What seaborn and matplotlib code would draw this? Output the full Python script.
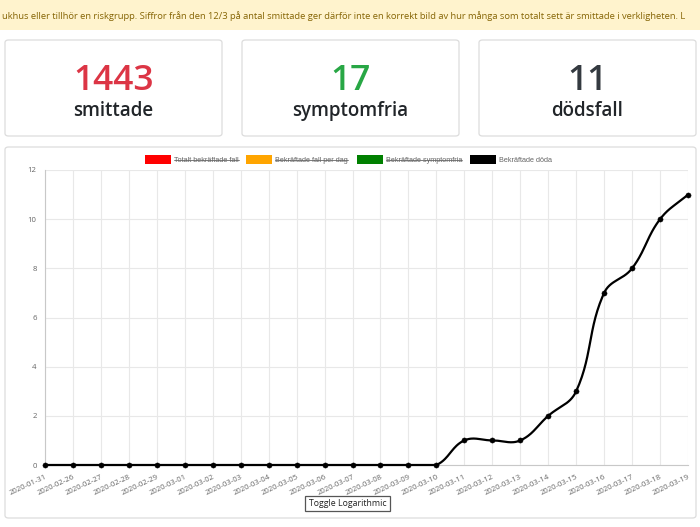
import numpy as np
import pandas as pd
import matplotlib
matplotlib.use("Agg")
import matplotlib.pyplot as plt
import seaborn as sns
from matplotlib.patches import FancyBboxPatch, Rectangle
from matplotlib.lines import Line2D

# ---------------- data ----------------
dates = ["2020-01-31", "2020-02-26", "2020-02-27", "2020-02-28", "2020-02-29",
         "2020-03-01", "2020-03-02", "2020-03-03", "2020-03-04", "2020-03-05",
         "2020-03-06", "2020-03-07", "2020-03-08", "2020-03-09", "2020-03-10",
         "2020-03-11", "2020-03-12", "2020-03-13", "2020-03-14", "2020-03-15",
         "2020-03-16", "2020-03-17", "2020-03-18", "2020-03-19"]
deaths = [0, 0, 0, 0, 0, 0, 0, 0, 0, 0, 0, 0, 0, 0, 0,
          1, 1, 1, 2, 3, 7, 8, 10, 11]
y_ticks = [0, 2, 4, 6, 8, 10, 12]

legend_labels = ["Totalt bekräftade fall", "Bekräftade fall per dag",
                 "Bekräftade symptomfria", "Bekräftade döda"]
legend_colors = ["#ff0000", "#ffa500", "#008000", "#000000"]
legend_hidden = [True, True, True, False]

card_values = ["1443", "17", "11"]
card_labels = ["smittade", "symptomfria", "dödsfall"]
card_colors = ["#dc3545", "#28a745", "#343a40"]

banner_text = ("ukhus eller tillhör en riskgrupp. Siffror från den 12/3 på antal smittade ger "
               "därför inte en korrekt bild av hur många som totalt sett är smittade i verkligheten. L")

# ---------------- setup ----------------
sns.set_style("white")
plt.rcParams["font.family"] = ["Open Sans", "DejaVu Sans"]

W, H = 700, 527
fig = plt.figure(figsize=(7, 5.27), dpi=100)
fig.patch.set_facecolor("white")

def fx(x):
    return x / W

def fy(y):
    return 1 - y / H

# banner
fig.patches.append(Rectangle((0, fy(30)), 1, 30 / H, transform=fig.transFigure,
                             facecolor="#fff3cd", edgecolor="none", zorder=-2))
bt = fig.text(fx(2), fy(16), banner_text, color="#856404", fontsize=8,
              ha="left", va="center")
renderer = fig.canvas.get_renderer()
bw = bt.get_window_extent(renderer).width
bt.set_fontsize(8 * 696 / bw)

# cards
card_x = [(5, 222), (242, 459), (479, 696)]
for (x0, x1), val, lab, col in zip(card_x, card_values, card_labels, card_colors):
    fig.patches.append(FancyBboxPatch((fx(x0), fy(136)), fx(x1 - x0), 96 / H,
                                      boxstyle="round,pad=0,rounding_size=0.005",
                                      transform=fig.transFigure, facecolor="white",
                                      edgecolor="#dcdcdc", linewidth=0.9, zorder=-2))
    cx = (x0 + x1) / 2
    fig.text(fx(cx), fy(89.5), val, color=col, fontsize=25.5, ha="center", va="baseline",
             family=["Open Sans", "DejaVu Sans"], fontweight="semibold")
    fig.text(fx(cx), fy(115.5), lab, color="#212529", fontsize=13.5, ha="center",
             va="baseline", family=["Open Sans", "DejaVu Sans"], fontweight="semibold")

# chart card
fig.patches.append(FancyBboxPatch((fx(5), fy(518)), fx(691), 371 / H,
                                  boxstyle="round,pad=0,rounding_size=0.005",
                                  transform=fig.transFigure, facecolor="white",
                                  edgecolor="#dcdcdc", linewidth=0.9, zorder=-2))

# axes
ax = fig.add_axes([fx(45), fy(465), fx(688) - fx(45), (465 - 170) / H])
ax.set_zorder(3)
ax.set_facecolor("none")
n = len(dates)
idx = np.arange(n)
ax.set_xlim(0, n - 1)
ax.set_ylim(y_ticks[0], y_ticks[-1])

# Chart.js-like spline (tension 0.4) computed in pixel space
fig.canvas.draw()
pts = ax.transData.transform(np.column_stack([idx, deaths]).astype(float))
t = 0.4
cp_prev = np.zeros_like(pts)
cp_next = np.zeros_like(pts)
for i in range(n):
    p0 = pts[i - 1] if i > 0 else pts[i]
    p1 = pts[i]
    p2 = pts[i + 1] if i < n - 1 else pts[i]
    d01 = np.hypot(*(p1 - p0))
    d12 = np.hypot(*(p2 - p1))
    s = d01 + d12
    s01 = d01 / s if s else 0
    s12 = d12 / s if s else 0
    cp_prev[i] = p1 - t * s01 * (p2 - p0)
    cp_next[i] = p1 + t * s12 * (p2 - p0)
bb = ax.get_window_extent(renderer)
for arr in (cp_prev, cp_next):
    arr[:, 1] = np.clip(arr[:, 1], bb.y0, bb.y1)
    arr[:, 0] = np.clip(arr[:, 0], bb.x0, bb.x1)
curve = []
tt = np.linspace(0, 1, 30)[:, None]
for i in range(n - 1):
    a, b, c, d = pts[i], cp_next[i], cp_prev[i + 1], pts[i + 1]
    seg = ((1 - tt) ** 3) * a + 3 * ((1 - tt) ** 2) * tt * b + 3 * (1 - tt) * tt ** 2 * c + tt ** 3 * d
    curve.append(seg if i == 0 else seg[1:])
curve = ax.transData.inverted().transform(np.vstack(curve))
curve_df = pd.DataFrame({"x": curve[:, 0], "y": curve[:, 1]})

sns.lineplot(data=curve_df, x="x", y="y", sort=False, color="black", linewidth=1.6,
             ax=ax, zorder=3)
for ln in ax.lines:
    ln.set_clip_on(False)
pts_df = pd.DataFrame({"x": idx, "y": deaths})
sns.scatterplot(data=pts_df, x="x", y="y", color="black", s=14, edgecolor="black",
                ax=ax, zorder=4, clip_on=False)

ax.set_xticks(idx)
ax.set_xticklabels(dates, rotation=25, ha="right", rotation_mode="anchor")
ax.set_yticks(y_ticks)
ax.set_yticklabels([str(v) for v in y_ticks])
ax.tick_params(axis="both", labelsize=5.6, labelcolor="#666666", color="#e0e0e0",
               length=4, width=0.8, pad=2)
ax.grid(True, color="#e8e8e8", linewidth=0.8)
ax.set_axisbelow(True)
for s in ["top", "right"]:
    ax.spines[s].set_visible(False)
for s in ["left", "bottom"]:
    ax.spines[s].set_color("#c8c8c8")
    ax.spines[s].set_linewidth(0.8)
ax.set_xlabel("")
ax.set_ylabel("")

# legend (manual, with strikethrough for hidden datasets)
box_x = [145, 246, 357, 470]
for bx, lab, col, hid in zip(box_x, legend_labels, legend_colors, legend_hidden):
    fig.patches.append(Rectangle((fx(bx), fy(163.5)), 26 / W, 9 / H,
                                 transform=fig.transFigure, facecolor=col,
                                 edgecolor="none"))
    txt = fig.text(fx(bx + 29), fy(162), lab, color="#666666", fontsize=5.2,
                   ha="left", va="baseline", family=["Liberation Sans", "DejaVu Sans"])
    if hid:
        ext = txt.get_window_extent(renderer)
        fig.lines.append(Line2D([ext.x0 / W, ext.x1 / W], [fy(160), fy(160)],
                                transform=fig.transFigure, color="#666666",
                                linewidth=0.6))

# toggle button
fig.patches.append(Rectangle((fx(305), fy(511)), 85 / W, 15 / H,
                             transform=fig.transFigure, facecolor="white",
                             edgecolor="#555555", linewidth=0.9))
fig.text(fx(347.5), fy(503.5), "Toggle Logarithmic", color="#222222", fontsize=6.3,
         ha="center", va="center", family=["Open Sans", "DejaVu Sans"])

fig.savefig("out.png", dpi=100)
